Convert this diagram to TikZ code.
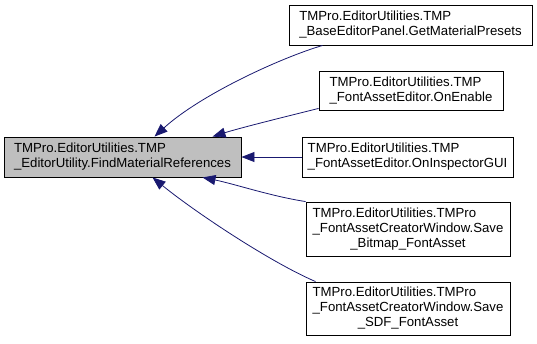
\documentclass[tikz,border=0pt]{standalone}
\usepackage{fontspec}
\setmainfont{Liberation Sans}
\usetikzlibrary{arrows.meta}
\definecolor{edgeblue}{RGB}{25,25,112}
\definecolor{focusgray}{RGB}{191,191,191}
% two-line and three-line labels: leading lines flush left, last line centred
\newcommand\lbltwo[2]{\begin{tabular}{@{}l@{}}#1\\#2\end{tabular}}
\newcommand\lblthree[3]{\begin{tabular}{@{}l@{}}#1\\#2\\\multicolumn{1}{@{}c@{}}{#3}\end{tabular}}
\begin{document}
\begin{tikzpicture}[x=1pt,y=-1pt,
  every node/.style={font=\fontsize{13.2}{15}\selectfont},
  fnbox/.style={draw=black,line width=0.9pt,fill=white,rectangle,inner sep=0pt,anchor=center},
  callee/.style={fnbox,fill=focusgray},
  callarrow/.style={draw=edgeblue,line width=0.8pt,
    -{Triangle[length=13pt,width=10pt,fill=edgeblue]}}]
\useasboundingbox (0,0) rectangle (537,343);

% the function whose callers are shown
\node[callee,minimum width=237pt,minimum height=40pt] (main) at (122.5,157)
  {\lbltwo{TMPro.EditorUtilities.TMP}{\_EditorUtility.FindMaterialReferences}};

% callers
\node[fnbox,minimum width=243pt,minimum height=40pt] (c1) at (410.5,25)
  {\lbltwo{TMPro.EditorUtilities.TMP}{\_BaseEditorPanel.GetMaterialPresets}};
\node[fnbox,minimum width=184pt,minimum height=39pt] (c2) at (411,90.5)
  {\lbltwo{TMPro.EditorUtilities.TMP}{\_FontAssetEditor.OnEnable}};
\node[fnbox,minimum width=211pt,minimum height=40pt] (c3) at (407.5,157)
  {\lbltwo{TMPro.EditorUtilities.TMP}{\_FontAssetEditor.OnInspectorGUI}};
\node[fnbox,minimum width=204pt,minimum height=54pt] (c4) at (408,229)
  {\lblthree{TMPro.EditorUtilities.TMPro}{\_FontAssetCreatorWindow.Save}{\_Bitmap\_FontAsset}};
\node[fnbox,minimum width=204pt,minimum height=53pt] (c5) at (408,308.5)
  {\lblthree{TMPro.EditorUtilities.TMPro}{\_FontAssetCreatorWindow.Save}{\_SDF\_FontAsset}};

% call edges, arrowheads at the callee
\draw[callarrow] ([xshift=34pt]c1.south west) .. controls (280,58) and (200,95) .. ([xshift=32pt]main.north);
\draw[callarrow] ([yshift=2pt]c2.south west) .. controls (280,118) and (240,128) .. ([xshift=90pt]main.north);
\draw[callarrow] (c3.west) -- (main.east);
\draw[callarrow] (c4.north west) .. controls (270,196) and (235,184) .. ([xshift=80pt]main.south);
\draw[callarrow] ([xshift=10pt]c5.north west) .. controls (270,262) and (195,212) .. ([xshift=30pt]main.south);
\end{tikzpicture}
\end{document}
